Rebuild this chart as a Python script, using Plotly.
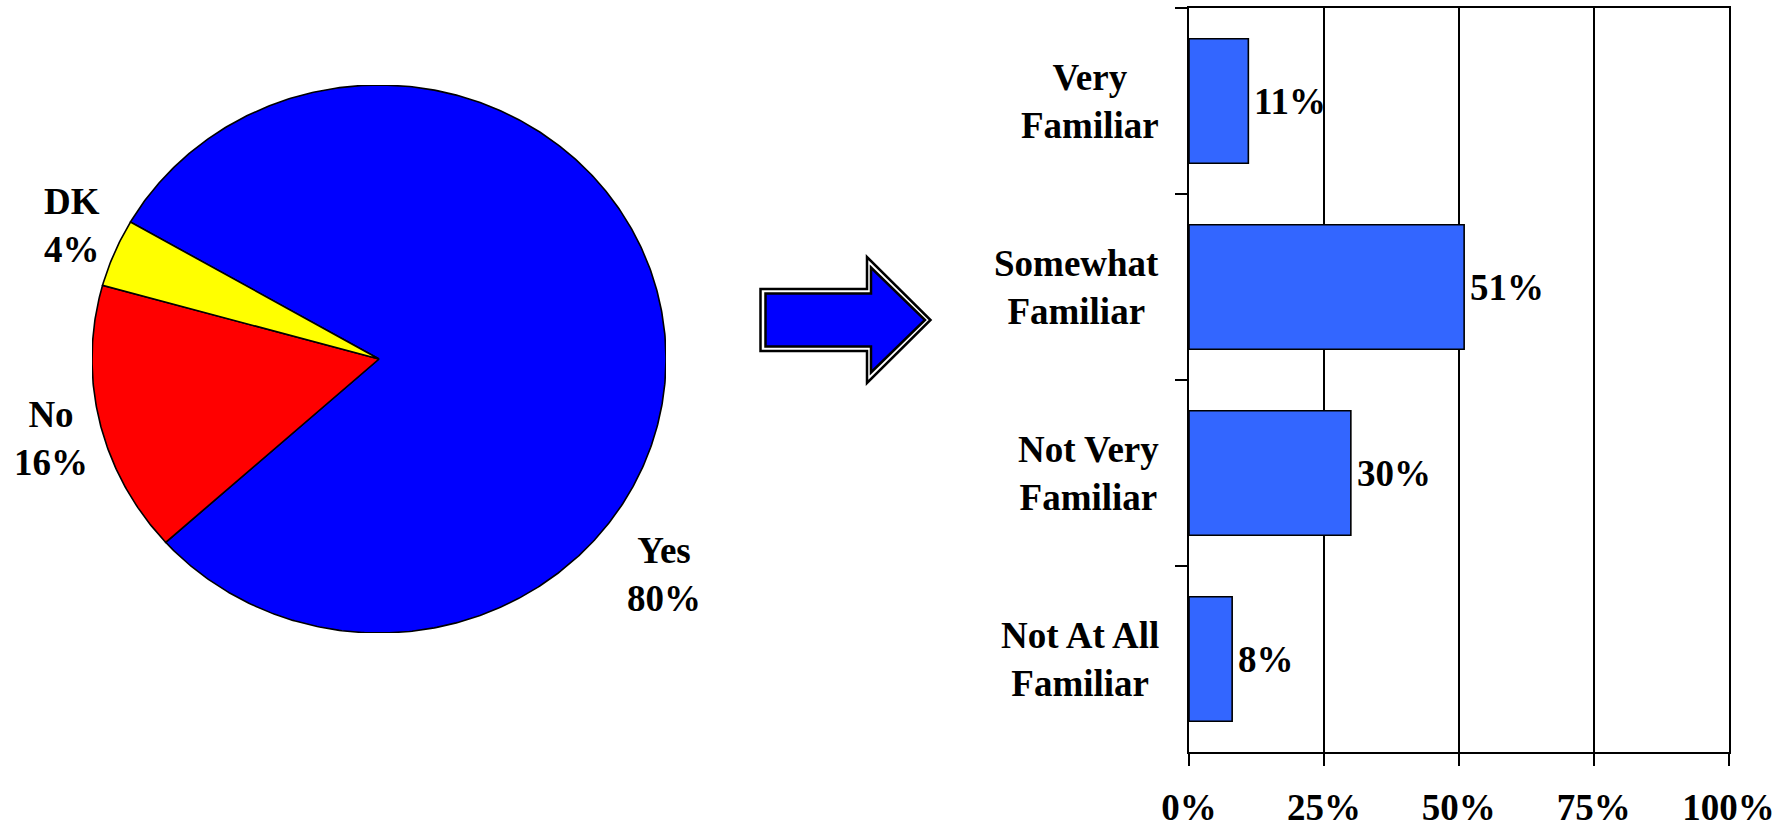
import numpy as np
import plotly.graph_objects as go

# Pie: awareness
pie_labels = ["Yes", "No", "DK"]
pie_values = [80, 16, 4]
pie_colors = ["#0000FF", "#FF0000", "#FFFF00"]

# Bars: familiarity
bar_categories = ["Very<br>Familiar", "Somewhat<br>Familiar", "Not Very<br>Familiar", "Not At All<br>Familiar"]
bar_values = [11, 51, 30, 8]
x_ticks = [0, 25, 50, 75, 100]
x_tick_labels = ["0%", "25%", "50%", "75%", "100%"]

W, H = 1790, 827
FONT = "Liberation Serif"
TXT = 37
BAR_COLOR = "#3366FF"


def px_x(p):
    return p / W


def px_y(p):
    return 1 - p / H


fig = go.Figure()

# ---- pie drawn as filled sectors on a stretched unit circle ----
start = 150.0  # first slice begins here and runs clockwise
total = float(sum(pie_values))
angle = start
for lab, val, col in zip(pie_labels, pie_values, pie_colors):
    span = 360.0 * val / total
    th = np.radians(np.linspace(angle, angle - span, max(int(span * 2), 8)))
    xs = np.concatenate([[0], np.cos(th), [0]])
    ys = np.concatenate([[0], np.sin(th), [0]])
    fig.add_trace(go.Scatter(
        x=xs, y=ys, mode="lines", fill="toself", fillcolor=col,
        line=dict(color="black", width=1.6), name=lab, hoverinfo="name",
        xaxis="x2", yaxis="y2", showlegend=False,
    ))
    angle -= span

# pie label centres (page pixels)
pie_label_pos = {"DK": (72, 225), "No": (51, 438), "Yes": (664, 574)}

# ---- horizontal bars ----
fig.add_trace(go.Bar(
    x=bar_values, y=bar_categories, orientation="h",
    marker=dict(color=BAR_COLOR, line=dict(color="black", width=1.6)),
    showlegend=False, hoverinfo="x+y",
))

annotations = []
for lab, val in zip(pie_labels, pie_values):
    ax, ay = pie_label_pos[lab]
    annotations.append(dict(
        x=px_x(ax), y=px_y(ay), xref="paper", yref="paper", text=f"<b>{lab}<br>{val}%</b>",
        showarrow=False, align="center", xanchor="center", yanchor="middle",
        font=dict(family=FONT, size=TXT, color="black"),
    ))

for cat, val in zip(bar_categories, bar_values):
    annotations.append(dict(
        x=val, y=cat, xref="x", yref="y", text=f"<b>{val}%</b>",
        showarrow=False, xanchor="left", yanchor="middle", xshift=4,
        font=dict(family=FONT, size=TXT, color="black"),
    ))
    annotations.append(dict(
        x=px_x(1161), y=cat, xref="paper", yref="y", text=f"<b>{cat}</b>",
        showarrow=False, xanchor="right", yanchor="middle", align="center",
        font=dict(family=FONT, size=TXT, color="black"),
    ))

# ---- block arrow between the two charts ----
def arrow_path(left, top, bottom, base, head_top, head_bot, tip_x, tip_y):
    pts = [(left, top), (base, top), (base, head_top), (tip_x, tip_y),
           (base, head_bot), (base, bottom), (left, bottom)]
    return "M " + " L ".join(f"{px_x(x):.5f},{px_y(y):.5f}" for x, y in pts) + " Z"


shapes = [
    dict(type="path", xref="paper", yref="paper",
         path=arrow_path(760.5, 289, 351, 867, 257, 383, 930.5, 320),
         fillcolor="white", line=dict(color="black", width=2.5)),
    dict(type="path", xref="paper", yref="paper",
         path=arrow_path(765.5, 293.5, 346.5, 871, 267.5, 372.5, 925, 320),
         fillcolor="#0000FF", line=dict(color="black", width=2.5)),
]

cx, cy, rx, ry = 379, 359, 287, 274

fig.update_layout(
    width=W, height=H,
    margin=dict(l=0, r=0, t=0, b=0, autoexpand=False),
    paper_bgcolor="white", plot_bgcolor="white",
    bargap=0.33,
    font=dict(family=FONT, size=TXT, color="black"),
    annotations=annotations,
    shapes=shapes,
    xaxis=dict(
        domain=[px_x(1189), px_x(1728.5)], automargin=False,
        range=[0, 100], tickvals=x_ticks, ticktext=[f"<b>{t}</b>" for t in x_tick_labels],
        showgrid=True, gridcolor="black", gridwidth=1.6,
        showline=True, linecolor="black", linewidth=2.2, mirror=True,
        ticks="outside", ticklen=12, tickwidth=2, tickcolor="black",
        ticklabelstandoff=9,
        tickfont=dict(family=FONT, size=TXT, color="black"),
        zeroline=False, fixedrange=True,
    ),
    yaxis=dict(
        domain=[px_y(752), px_y(8)], automargin=False,
        autorange="reversed", type="category",
        showticklabels=False, showgrid=False,
        showline=True, linecolor="black", linewidth=2.2, mirror=True,
        ticks="outside", tickson="boundaries", ticklen=12, tickwidth=2, tickcolor="black",
        zeroline=False, fixedrange=True,
    ),
    xaxis2=dict(
        domain=[px_x(cx - rx), px_x(cx + rx)], range=[-1, 1], anchor="y2",
        visible=False, fixedrange=True, automargin=False,
    ),
    yaxis2=dict(
        domain=[px_y(cy + ry), px_y(cy - ry)], range=[-1, 1], anchor="x2",
        visible=False, fixedrange=True, automargin=False,
    ),
)

fig.write_html("out.html")
